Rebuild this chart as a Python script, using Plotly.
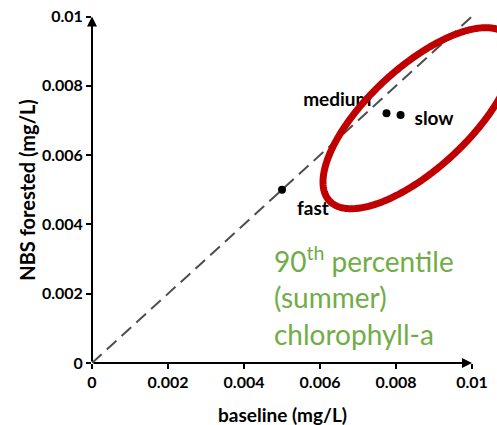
import numpy as np
import plotly.graph_objects as go

# ---- data ----
names = ["fast", "medium", "slow"]
baseline = [0.00500, 0.00775, 0.00812]
nbs_forested = [0.00500, 0.00721, 0.00716]
tick_vals = [0, 0.002, 0.004, 0.006, 0.008, 0.01]
tick_text = ["0", "0.002", "0.004", "0.006", "0.008", "0.01"]
one_to_one = [0, 0.01]
# highlight ellipse: centre and two half-axis vectors (data units)
ell_center = (0.008592, 0.007065)
ell_major = (0.002345, 0.002384)
ell_minor = (0.000903, -0.001068)

FONT = "Lato"
PX_X = 1 / 38000.0   # data units per pixel (x)
PX_Y = 1 / 34650.0   # data units per pixel (y)
X_MAX = 405 * PX_X
Y_MAX = 363 * PX_Y

# label placement (pixel offsets from each point) and anchor
label_dx = {"fast": 15, "medium": -15, "slow": 14}
label_dy = {"fast": -20, "medium": 12, "slow": -5}
label_pos = {"fast": "middle right", "medium": "middle left", "slow": "middle right"}

fig = go.Figure()

# dashed 1:1 line
fig.add_trace(go.Scatter(x=one_to_one, y=one_to_one, mode="lines",
                         line=dict(color="#4d4d4d", width=2, dash="13px,7px"),
                         hoverinfo="skip", showlegend=False))

# points
fig.add_trace(go.Scatter(x=baseline, y=nbs_forested, mode="markers",
                         marker=dict(color="black", size=8),
                         showlegend=False))

# point labels (drawn below the ellipse)
fig.add_trace(go.Scatter(
    x=[bx + label_dx[n] * PX_X for n, bx in zip(names, baseline)],
    y=[ny + label_dy[n] * PX_Y for n, ny in zip(names, nbs_forested)],
    mode="text", text=[f"<b>{n}</b>" for n in names],
    textposition=[label_pos[n] for n in names],
    textfont=dict(family=FONT, size=19, color="black"),
    hoverinfo="skip", showlegend=False, cliponaxis=False))

# ellipse
t = np.linspace(0, 2 * np.pi, 400)
ex = ell_center[0] + ell_major[0] * np.cos(t) + ell_minor[0] * np.sin(t)
ey = ell_center[1] + ell_major[1] * np.cos(t) + ell_minor[1] * np.sin(t)
fig.add_trace(go.Scatter(x=ex, y=ey, mode="lines",
                         line=dict(color="#C00000", width=7, simplify=False),
                         hoverinfo="skip", showlegend=False))

annotations = []
# axes arrows
annotations.append(dict(x=0.01, y=0, ax=0, ay=0, xref="x", yref="y", axref="x", ayref="y",
                        text="", showarrow=True, arrowhead=2, arrowsize=1, arrowwidth=2,
                        arrowcolor="black"))
annotations.append(dict(x=0, y=0.01, ax=0, ay=0, xref="x", yref="y", axref="x", ayref="y",
                        text="", showarrow=True, arrowhead=2, arrowsize=1, arrowwidth=2,
                        arrowcolor="black"))

# axis titles
annotations.append(dict(x=0.005, y=0, xref="x", yref="paper", yshift=-51,
                        text="<b>baseline (mg/L)</b>", showarrow=False,
                        xanchor="center", yanchor="middle",
                        font=dict(family=FONT, size=19, color="black")))
annotations.append(dict(x=0, y=0.005, xref="paper", yref="y", xshift=-65,
                        text="<b>NBS forested (mg/L)</b>", showarrow=False, textangle=-90,
                        xanchor="center", yanchor="middle",
                        font=dict(family=FONT, size=20, color="black")))

# green note
annotations.append(dict(x=0.004724, y=0.00186, xref="x", yref="y", yshift=3,
                        text="90<sup>th</sup> percentile<br>(summer)<br>chlorophyll-a",
                        showarrow=False, xanchor="left", yanchor="middle", align="left",
                        font=dict(family=FONT, size=28, color="#70AD47")))

fig.update_layout(
    width=497, height=425,
    margin=dict(l=92, r=0, t=0, b=62),
    plot_bgcolor="white", paper_bgcolor="white",
    annotations=annotations,
    xaxis=dict(range=[0, X_MAX], tickvals=tick_vals, ticktext=tick_text,
               showgrid=False, zeroline=False, showline=False,
               ticks="outside", ticklen=5, tickwidth=2, tickcolor="black",
               tickfont=dict(family=FONT, size=16, color="black", weight="bold")),
    yaxis=dict(range=[0, Y_MAX], tickvals=tick_vals, ticktext=tick_text,
               showgrid=False, zeroline=False, showline=False,
               ticks="outside", ticklen=5, tickwidth=2, tickcolor="black",
               tickfont=dict(family=FONT, size=16, color="black", weight="bold")),
)

fig.write_html("out.html")
